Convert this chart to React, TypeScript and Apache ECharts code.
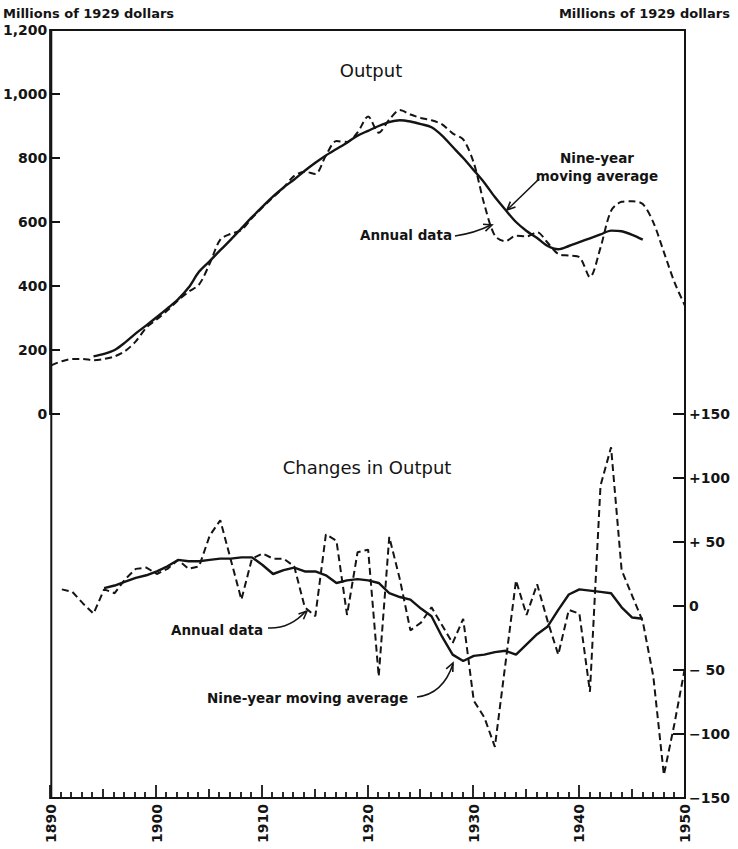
import React, { useEffect, useRef } from "react";
import * as echarts from "echarts";

// ---------- data ----------
const topAnnualStart = 1890;
const topAnnual = [
  152, 165, 172, 172, 168, 172, 180, 197, 227, 270,
  296, 324, 355, 382, 405, 470, 545, 563, 575, 612,
  646, 677, 708, 744, 757, 750, 808, 853, 850, 880,
  930, 879, 920, 950, 936, 925, 918, 905, 877, 858,
  785, 655, 557, 540, 557, 555, 568, 535, 500, 495,
  490, 428, 520, 635, 663, 665, 656, 599, 506, 412,
  338,
];
const topAvgStart = 1894;
const topAvg = [
  180, 188, 200, 224, 252, 277,
  303, 330, 358, 395, 445, 478, 512, 545, 580, 615,
  648, 680, 708, 733, 760, 785, 808, 828, 848, 870,
  885, 900, 912, 918, 914, 906, 896, 870, 835, 800,
  762, 723, 678, 638, 600, 572, 550, 525, 515, 525,
  537, 549, 561, 573, 571, 560, 545,
];
const chgAnnualStart = 1891;
const chgAnnual = [
  13, 11, 2, -6, 13, 10, 21, 29, 30,
  25, 29, 36, 29, 31, 55, 67, 36, 5, 37,
  41, 37, 37, 31, -1, -8, 56, 51, -7, 42,
  44, -55, 54, 21, -19, -13, -1, -15, -29, -10,
  -74, -87, -110, -45, 20, -7, 17, -12, -38, -3,
  -6, -67, 94, 124, 28, 8, -12, -55, -132, -92,
  -48,
];
const chgAvgStart = 1895;
const chgAvg = [
  14, 16, 19, 22, 24,
  27, 31, 36, 35, 35, 36, 37, 37, 38, 38,
  32, 25, 28, 30, 27, 27, 24, 18, 20, 21,
  20, 18, 10, 7, 5, -2, -8, -24, -38, -43,
  -39, -38, -36, -35, -38, -30, -22, -16, -3, 9,
  13, 12, 11, 10, -1, -9, -10,
];
const leftTicks = [0, 200, 400, 600, 800, 1000, 1200];
const rightTicks = [-150, -100, -50, 0, 50, 100, 150];
const xMin = 1890;
const xMax = 1950;
const leftMin = -1200;
const leftMax = 1200;
const rightMin = -150;
const rightMax = 450;

const pairs = (start: number, vals: number[]) => vals.map((v, i) => [start + i, v]);

const FONT = '"DejaVu Sans", "Liberation Sans", sans-serif';
const INK = "#141414";
const W = 738;
const H = 849;
const G = { left: 50, right: 53, top: 30, bottom: 51 };

function arrowHead(tx: number, ty: number, fx: number, fy: number, len = 9, ang = 0.42) {
  const a = Math.atan2(fy - ty, fx - tx);
  return [
    [tx + len * Math.cos(a + ang), ty + len * Math.sin(a + ang)],
    [tx, ty],
    [tx + len * Math.cos(a - ang), ty + len * Math.sin(a - ang)],
  ];
}

function txt(x: number, y: number, text: string, align: string, size = 13.5, weight = "bold") {
  return {
    type: "text",
    x,
    y,
    style: {
      text,
      fill: INK,
      fontSize: size,
      fontFamily: FONT,
      fontWeight: weight,
      textAlign: align,
      textVerticalAlign: "middle",
    },
  };
}

const lineStyle = { stroke: INK, lineWidth: 1.6, fill: "none" };

export default function App() {
  const ref = useRef<HTMLDivElement>(null);
  useEffect(() => {
    if (!ref.current) return;
    const chart = echarts.init(ref.current, undefined, { renderer: "svg" });
    const leftFmt = (v: number) =>
      leftTicks.includes(v) ? v.toLocaleString("en-US") : "";
    const rightFmt = (v: number) => {
      if (!rightTicks.includes(v)) return "";
      if (v === 0) return "0";
      if (v > 0) return v === 50 ? "+ 50" : "+" + v;
      return v === -50 ? "\u2212 50" : "\u2212" + Math.abs(v);
    };
    const labelFont = { color: INK, fontSize: 14, fontWeight: "bold", fontFamily: FONT };

    // linear axis mapping matching the grid geometry (for tick furniture)
    const plotW = W - G.left - G.right;
    const plotH = H - G.top - G.bottom;
    const sx = (yr: number) => G.left + ((yr - xMin) / (xMax - xMin)) * plotW;
    const syL = (v: number) => G.top + ((leftMax - v) / (leftMax - leftMin)) * plotH;
    const syR = (v: number) => G.top + ((rightMax - v) / (rightMax - rightMin)) * plotH;
    const bottomY = G.top + plotH;

    const xTickPts: number[][] = [];
    for (let yr = xMin; yr <= xMax; yr++) {
      const len = yr % 10 === 0 ? 13 : yr % 5 === 0 ? 9 : 6;
      const tx = Math.round(sx(yr));
      xTickPts.push([tx, bottomY], [tx, bottomY - len], [tx, bottomY]);
    }
    const leftTickPts: number[][] = [];
    leftTicks.forEach((v) => {
      const ty = Math.round(syL(v));
      leftTickPts.push([G.left, ty], [G.left + 10, ty], [G.left, ty]);
    });
    const rightTickPts: number[][] = [];
    const rx = W - G.right;
    rightTicks.forEach((v) => {
      const ty = Math.round(syR(v));
      rightTickPts.push([rx, ty], [rx - 12, ty], [rx, ty]);
    });
    const tickStyle = { stroke: INK, lineWidth: 1.8, fill: "none" };

    chart.setOption({
      animation: false,
      backgroundColor: "#fff",
      grid: {
        left: G.left,
        right: G.right,
        top: G.top,
        bottom: G.bottom,
        show: true,
        borderColor: INK,
        borderWidth: 2,
        backgroundColor: "transparent",
      },
      xAxis: {
        type: "value",
        min: xMin,
        max: xMax,
        interval: 10,
        position: "bottom",
        axisLine: { show: true, onZero: false, lineStyle: { color: INK, width: 2 } },
        axisTick: { show: false },
        splitLine: { show: false },
        axisLabel: { ...labelFont, rotate: 90, margin: 6, formatter: (v: number) => String(v) },
      },
      yAxis: [
        {
          type: "value",
          min: leftMin,
          max: leftMax,
          interval: 200,
          position: "left",
          axisLine: { show: false, onZero: false },
          axisTick: { show: false },
          axisLabel: { ...labelFont, margin: 4, formatter: leftFmt },
          splitLine: { show: false },
        },
        {
          type: "value",
          min: rightMin,
          max: rightMax,
          interval: 50,
          position: "right",
          axisLine: { show: false, onZero: false },
          axisTick: { show: false },
          axisLabel: { ...labelFont, margin: 4, formatter: rightFmt },
          splitLine: { show: false },
        },
      ],
      series: [
        {
          name: "Output annual",
          type: "line",
          yAxisIndex: 0,
          data: pairs(topAnnualStart, topAnnual),
          symbol: "none",
          smooth: 0.3,
          lineStyle: { color: INK, width: 2, type: [7, 4] },
        },
        {
          name: "Output average",
          type: "line",
          yAxisIndex: 0,
          data: pairs(topAvgStart, topAvg),
          symbol: "none",
          smooth: 0.3,
          lineStyle: { color: INK, width: 2.4 },
        },
        {
          name: "Changes annual",
          type: "line",
          yAxisIndex: 1,
          data: pairs(chgAnnualStart, chgAnnual),
          symbol: "none",
          lineStyle: { color: INK, width: 2, type: [7, 4] },
        },
        {
          name: "Changes average",
          type: "line",
          yAxisIndex: 1,
          data: pairs(chgAvgStart, chgAvg),
          symbol: "none",
          lineStyle: { color: INK, width: 2.4 },
        },
      ],
      graphic: [
        { type: "polyline", shape: { points: xTickPts }, style: tickStyle },
        { type: "polyline", shape: { points: leftTickPts }, style: tickStyle },
        { type: "polyline", shape: { points: rightTickPts }, style: tickStyle },
        txt(3, 13, "Millions of 1929 dollars", "left", 13),
        txt(730, 13, "Millions of 1929 dollars", "right", 13),
        txt(371, 70, "Output", "center", 18, "normal"),
        txt(367, 467, "Changes in Output", "center", 18, "normal"),
        txt(597, 158, "Nine-year", "center"),
        txt(597, 176, "moving average", "center"),
        txt(452, 235, "Annual data", "right"),
        txt(171, 630, "Annual data", "left"),
        txt(207, 698, "Nine-year moving average", "left"),
        // top moving-average arrow
        { type: "line", shape: { x1: 539, y1: 179, x2: 508, y2: 209 }, style: lineStyle },
        { type: "polyline", shape: { points: arrowHead(507, 210, 539, 179) }, style: lineStyle },
        // top annual data arrow
        { type: "bezierCurve", shape: { x1: 455, y1: 236, x2: 491, y2: 225, cpx1: 475, cpy1: 233 }, style: lineStyle },
        { type: "polyline", shape: { points: arrowHead(492, 225, 475, 231) }, style: lineStyle },
        // bottom annual data arrow
        { type: "bezierCurve", shape: { x1: 268, y1: 628, x2: 306, y2: 611, cpx1: 290, cpy1: 629 }, style: lineStyle },
        { type: "polyline", shape: { points: arrowHead(307, 611, 293, 624) }, style: lineStyle },
        // bottom moving-average arrow
        { type: "bezierCurve", shape: { x1: 417, y1: 697, x2: 453, y2: 664, cpx1: 443, cpy1: 694 }, style: lineStyle },
        { type: "polyline", shape: { points: arrowHead(453, 663, 445, 680) }, style: lineStyle },
      ],
    });
    return () => chart.dispose();
  }, []);
  return (
    <div
      ref={ref}
      style={{ position: "fixed", left: 0, top: 0, width: W, height: H, background: "#fff" }}
    />
  );
}
